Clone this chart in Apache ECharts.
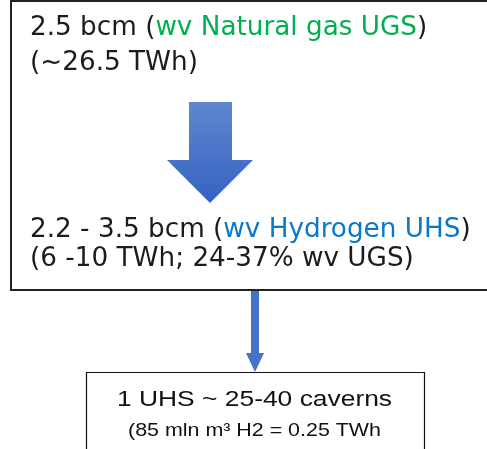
<!DOCTYPE html>
<html>
<head>
<meta charset="utf-8">
<script src="https://cdn.jsdelivr.net/npm/echarts@6/dist/echarts.min.js"></script>
<style>
  html, body { margin: 0; padding: 0; background: #fff; }
  #chart { width: 487px; height: 449px; }
</style>
</head>
<body>
<div id="chart"></div>
<script>
// texts of the diagram
const topLines = ['2.5 bcm (', 'wv Natural gas UGS', ')', '(~26.5 TWh)'];
const midLines = ['2.2 - 3.5 bcm (', 'wv Hydrogen UHS', ')', '(6 -10 TWh; 24-37% wv UGS)'];
const boxLines = ['1 UHS ~ 25-40 caverns', '(85 mln m\u00b3 H2 = 0.25 TWh'];

const mainFont = '26px "DejaVu Sans", sans-serif';
const boxFont = '"Liberation Sans", Arial, sans-serif';

const chart = echarts.init(document.getElementById('chart'));

const arrowGrad = new echarts.graphic.LinearGradient(0, 0, 0, 1, [
    { offset: 0, color: '#5f87cf' },
    { offset: 1, color: '#3563c2' }
]);

function line(x, y, text, extra) {
    return {
        type: 'text',
        x: x, y: y,
        scaleX: 1.01,
        style: Object.assign({
            text: text,
            font: mainFont,
            fill: '#1c1c1c',
            verticalAlign: 'middle'
        }, extra || {})
    };
}

let option = {
    backgroundColor: '#fff',
    graphic: [
        // big outer box
        {
            type: 'rect',
            shape: { x: 11, y: 1, width: 490, height: 289 },
            style: { fill: 'none', stroke: '#222', lineWidth: 2 }
        },
        // big arrow
        {
            type: 'polygon',
            shape: { points: [[189, 102], [232, 102], [232, 160], [253, 160], [210, 203], [167, 160], [189, 160]] },
            style: { fill: arrowGrad }
        },
        line(30, 28, topLines[0] + '{g|' + topLines[1] + '}' + topLines[2],
            { rich: { g: { fill: '#00b050', font: mainFont } } }),
        line(30, 63, topLines[3]),
        line(30, 230, midLines[0] + '{b|' + midLines[1] + '}' + midLines[2],
            { rich: { b: { fill: '#0a78c8', font: mainFont } } }),
        line(30, 259, midLines[3]),
        // thin connector arrow
        {
            type: 'rect',
            shape: { x: 251, y: 291, width: 8, height: 63 },
            style: { fill: '#4472c4' }
        },
        {
            type: 'polygon',
            shape: { points: [[246, 353], [264, 353], [255, 372]] },
            style: { fill: '#4472c4' }
        },
        // small box
        {
            type: 'rect',
            shape: { x: 86.5, y: 372.5, width: 338, height: 90 },
            style: { fill: 'none', stroke: '#111', lineWidth: 1.2 }
        },
        {
            type: 'text',
            x: 254.5, y: 400,
            scaleX: 1.2,
            style: {
                text: boxLines[0],
                font: '22px ' + boxFont,
                fill: '#111',
                align: 'center',
                verticalAlign: 'middle'
            }
        },
        {
            type: 'text',
            x: 254.5, y: 431,
            scaleX: 1.19,
            style: {
                text: boxLines[1],
                font: '18px ' + boxFont,
                fill: '#111',
                align: 'center',
                verticalAlign: 'middle'
            }
        }
    ]
};

chart.setOption(option);

window.addEventListener('resize', () => {
    chart.resize();
});
</script>
</body>
</html>
